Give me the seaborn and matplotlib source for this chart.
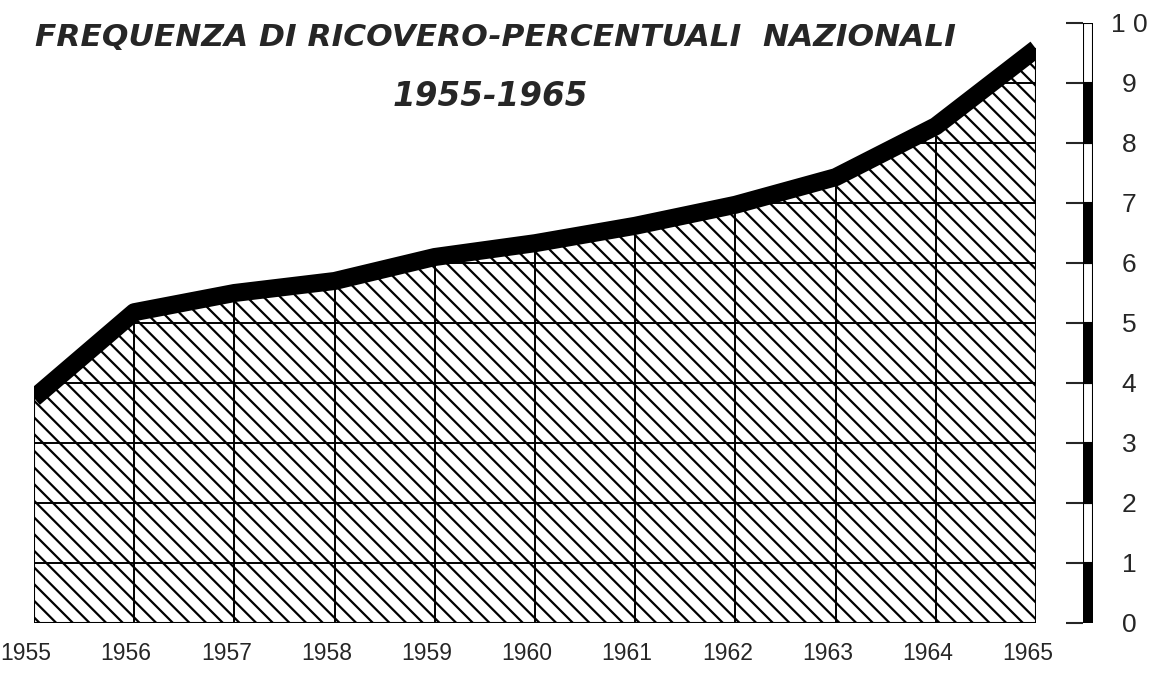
import matplotlib
matplotlib.use('Agg')
import matplotlib.pyplot as plt
import matplotlib.transforms as mtrans
import seaborn as sns
import pandas as pd

# dati
anni = [1955, 1956, 1957, 1958, 1959, 1960, 1961, 1962, 1963, 1964, 1965]
frequenza = [3.75, 5.18, 5.5, 5.7, 6.1, 6.33, 6.62, 6.97, 7.43, 8.28, 9.57]
etichette_anni = ['1955', '1956', '1957', '1958', '1959', '1960', '1961', '1962', '1963', '1964', '1965']
scala = [0, 1, 2, 3, 4, 5, 6, 7, 8, 9, 10]
etichette_scala = ['0', '1', '2', '3', '4', '5', '6', '7', '8', '9', '1 0']

sns.set_style('white')
plt.rcParams['font.family'] = ['Liberation Sans', 'DejaVu Sans']
plt.rcParams['hatch.linewidth'] = 1.6

df = pd.DataFrame({'anno': anni, 'frequenza': frequenza})

W, H = 1157, 684
fig = plt.figure(figsize=(W / 100, H / 100), dpi=100)

# area principale
ax = fig.add_axes([34 / W, (H - 623) / H, (1036 - 34) / W, 600 / H])
ax.set_xlim(1955, 1965)
ax.set_ylim(0, 10)

area = ax.fill_between(df['anno'], df['frequenza'], 0, facecolor='white',
                       edgecolor='black', hatch='\\\\', linewidth=1.5, zorder=1)
path = area.get_paths()[0]

# griglia solo dentro l'area
hl = ax.hlines(scala[1:-1], 1955, 1965, color='black', linewidth=1.4, zorder=2)
vl = ax.vlines(anni, 0, 10, color='black', linewidth=1.4, zorder=2)
hl.set_clip_path(path, ax.transData)
vl.set_clip_path(path, ax.transData)

# linea spessa in alto
sns.lineplot(data=df, x='anno', y='frequenza', ax=ax, color='black',
             linewidth=13, solid_capstyle='butt', solid_joinstyle='round', zorder=3)

for s in ax.spines.values():
    s.set_visible(False)
ax.set_xlabel('')
ax.set_ylabel('')
ax.set_yticks([])
ax.set_xticks(anni, labels=etichette_anni)
ax.tick_params(axis='x', length=0, pad=14, labelsize=16.5)
sposta = mtrans.ScaledTranslation(-0.08, 0, fig.dpi_scale_trans)
for lab in ax.get_xticklabels():
    lab.set_transform(lab.get_transform() + sposta)

# scala a destra
ax2 = fig.add_axes([1083 / W, (H - 623) / H, 10 / W, 600 / H])
colori = ['black' if i % 2 == 0 else 'white' for i in range(10)]
ax2.bar([0] * 10, [1] * 10, bottom=scala[:-1], width=1, color=colori,
        edgecolor='black', linewidth=1.5)
ax2.set_xlim(-0.5, 0.5)
ax2.set_ylim(0, 10)
ax2.set_xticks([])
ax2.set_yticks(scala, labels=etichette_scala)
ax2.tick_params(axis='y', left=True, right=False, labelleft=False, labelright=True,
                length=12, width=1.5, pad=14, labelsize=19)
for lab in ax2.get_yticklabels():
    lab.set_ha('center')
for s in ax2.spines.values():
    s.set_visible(False)

# titolo
fig.text(495 / W, 1 - 38 / H, 'FREQUENZA DI RICOVERO-PERCENTUALI  NAZIONALI',
         ha='center', va='center', fontsize=22.5, style='italic', weight='bold',
         family=['DejaVu Sans'])
fig.text(490 / W, 1 - 96 / H, '1955-1965', ha='center', va='center',
         fontsize=23.5, style='italic', weight='bold', family=['DejaVu Sans'])

fig.savefig('out.png', dpi=100)
